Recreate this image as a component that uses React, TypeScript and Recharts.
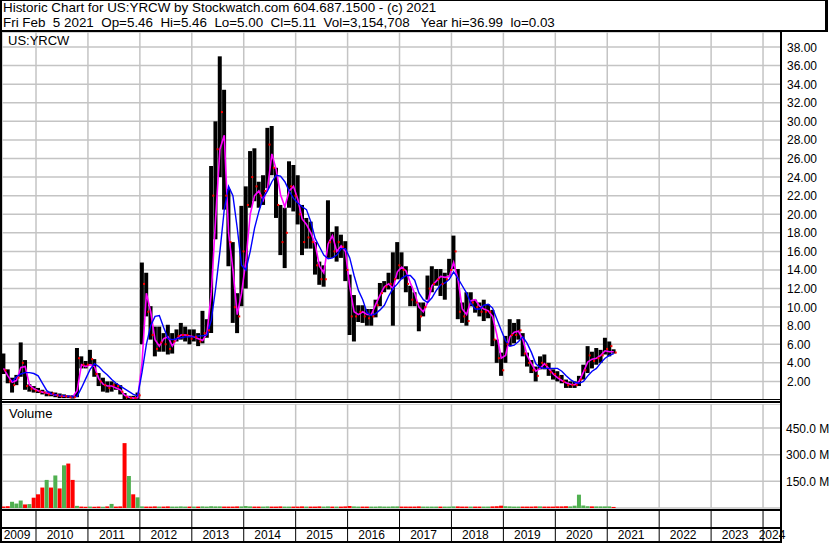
import React from 'react';
import { ComposedChart, Bar, Line, Scatter, XAxis, YAxis, CartesianGrid, Cell } from 'recharts';

// one bar per month, first bar is May 2009
const startYear = 2009;
const startMonth = 4;

const highs = [
  5.0, 3.3, 2.4, 2.7, 6.2, 4.3, 1.7, 1.5,
  1.3, 1.1, 0.9, 0.9, 0.8, 0.7, 0.6, 0.5, 0.5, 5.6, 4.7, 4.2,
  5.4, 4.4, 2.9, 2.4, 2.0, 2.0, 1.8, 1.6, 0.75, 0.45, 0.45, 0.8,
  14.8, 13.7, 10.1, 7.9, 7.9, 7.2, 8.1, 7.2, 7.6, 8.3, 7.9, 7.6,
  7.6, 7.2, 9.6, 8.7, 25.2, 30.0, 37.0, 33.4, 22.7, 17.0, 11.5, 20.9,
  23.0, 26.8, 27.1, 23.5, 24.2, 29.3, 29.5, 25.0, 21.0, 20.7, 25.7, 25.3,
  24.2, 21.0, 19.6, 19.2, 17.0, 14.9, 14.5, 21.5, 18.1, 18.7, 17.8, 17.1,
  13.5, 11.3, 10.2, 10.2, 9.8, 9.8, 10.8, 12.6, 12.8, 13.7, 15.9, 17.0,
  15.9, 14.4, 12.3, 11.6, 10.5, 10.5, 13.4, 14.4, 14.1, 14.1, 13.7, 15.2,
  17.7, 14.1, 10.5, 11.6, 11.6, 10.8, 10.5, 10.8, 10.3, 9.7, 6.5, 5.1,
  6.9, 8.7, 8.3, 8.7, 7.2, 5.1, 4.3, 3.6, 4.7, 4.9, 4.0, 3.3,
  3.1, 2.7, 2.2, 2.0, 2.0, 2.6, 3.8, 5.8, 5.2, 5.6, 5.4, 6.7,
  6.3, 5.46,
];

const lows = [
  2.8, 1.8, 0.8, 1.6, 2.5, 1.1, 0.9, 0.8,
  0.75, 0.6, 0.4, 0.4, 0.3, 0.2, 0.2, 0.2, 0.15, 0.3, 3.4, 3.4,
  3.8, 2.5, 1.5, 0.9, 0.8, 0.9, 1.1, 0.6, 0.1, 0.1, 0.1, 0.1,
  6.0, 9.0, 6.5, 4.7, 5.2, 5.2, 4.9, 5.0, 6.3, 6.5, 6.3, 6.0,
  6.3, 5.8, 6.1, 6.7, 7.2, 17.3, 24.0, 20.5, 14.4, 8.3, 7.2, 10.1,
  12.0, 20.7, 21.4, 20.7, 21.0, 22.8, 24.2, 19.6, 15.6, 14.2, 20.7, 20.3,
  18.9, 15.6, 16.3, 16.3, 13.5, 12.4, 12.2, 15.3, 15.3, 14.9, 15.3, 12.8,
  7.0, 6.3, 8.4, 8.3, 8.0, 8.0, 8.9, 10.1, 11.6, 11.9, 8.0, 13.0,
  13.0, 11.6, 10.1, 10.1, 7.4, 9.0, 10.8, 11.6, 12.3, 11.2, 10.8, 13.4,
  14.1, 8.7, 8.3, 8.0, 10.1, 9.4, 9.0, 8.5, 8.8, 5.8, 4.0, 2.6,
  4.0, 5.8, 6.1, 6.5, 4.7, 3.6, 2.9, 2.0, 3.3, 3.3, 2.6, 2.2,
  2.0, 1.8, 1.3, 1.3, 1.3, 1.5, 2.2, 2.9, 3.4, 3.8, 4.0, 4.9,
  4.7, 5.0,
];

const closes = [
  3.2, 2.0, 1.6, 2.4, 4.0, 1.5, 1.2, 1.0,
  0.9, 0.8, 0.6, 0.7, 0.5, 0.4, 0.4, 0.3, 0.3, 4.5, 3.8, 3.8,
  4.4, 2.8, 2.0, 1.6, 1.3, 1.6, 1.5, 0.9, 0.3, 0.2, 0.2, 0.5,
  12.5, 9.5, 7.0, 5.5, 6.2, 6.0, 5.5, 6.3, 6.9, 7.0, 7.0, 6.6,
  6.8, 6.3, 7.2, 7.5, 22.0, 27.0, 31.0, 22.0, 17.0, 10.0, 9.0, 16.0,
  21.0, 24.0, 23.0, 22.0, 22.5, 27.5, 25.0, 21.0, 17.0, 18.0, 23.0, 22.0,
  20.0, 17.0, 17.5, 17.0, 14.5, 13.0, 13.0, 17.0, 16.0, 17.0, 16.5, 14.0,
  9.0, 9.0, 9.5, 9.0, 8.8, 9.0, 10.2, 11.5, 12.2, 12.5, 13.0, 14.5,
  14.0, 12.5, 10.8, 10.5, 9.0, 10.0, 12.0, 12.5, 13.0, 12.5, 13.0, 14.0,
  16.0, 9.5, 9.0, 8.5, 10.5, 10.0, 9.5, 9.5, 9.5, 6.5, 4.5, 3.2,
  6.0, 7.0, 7.0, 7.5, 5.0, 4.0, 3.2, 2.6, 4.0, 3.8, 3.0, 2.8,
  2.5, 2.0, 1.6, 1.6, 1.6, 2.2, 3.2, 4.8, 4.2, 4.5, 4.8, 5.5,
  5.8, 5.11,
];

// short moving average (magenta)
const fastAvg = [
  3.4, 2.6, 1.9, 2.1, 3.5, 3.6, 1.6, 1.2,
  1.0, 0.85, 0.75, 0.65, 0.55, 0.45, 0.4, 0.38, 0.35, 1.0, 3.8, 3.6,
  3.8, 3.6, 2.3, 1.7, 1.5, 1.5, 1.3, 1.1, 0.5, 0.3, 0.2, 0.25,
  4.0, 11.5, 9.5, 6.5, 5.8, 6.6, 6.8, 5.8, 6.6, 7.0, 7.0, 6.9,
  6.8, 6.6, 6.4, 7.2, 11.5, 19.5, 27.0, 28.5, 18.0, 14.0, 9.2, 11.5,
  15.0, 20.0, 22.0, 22.5, 21.5, 22.8, 26.5, 24.8, 22.1, 20.8, 22.5, 23.0,
  21.6, 19.5, 18.9, 18.0, 16.8, 14.4, 13.7, 16.8, 17.7, 16.0, 16.6, 16.0,
  12.2, 9.5, 9.2, 9.5, 9.2, 9.2, 10.3, 11.3, 12.2, 12.5, 12.0, 13.8,
  14.3, 13.9, 12.6, 11.5, 10.0, 9.5, 10.5, 12.3, 12.8, 13.3, 13.2, 13.3,
  14.8, 13.0, 9.8, 9.2, 10.7, 10.8, 10.1, 9.8, 9.6, 9.0, 7.0, 4.5,
  4.8, 6.8, 7.3, 7.4, 6.5, 4.8, 3.9, 3.1, 3.4, 3.9, 3.4, 2.8,
  2.4, 2.1, 1.85, 1.7, 1.65, 2.0, 3.0, 4.1, 4.4, 4.5, 4.8, 5.3,
  5.2, 5.2,
];

// long moving average (blue)
const slowAvg = [
  null, null, 2.0, 2.5, 2.8, 2.95, 2.95, 2.85,
  2.6, 1.8, 1.0, 0.7, 0.55, 0.5, 0.45, 0.4, 0.38, 0.4, 1.3, 2.3,
  3.3, 3.9, 3.6, 3.1, 2.7, 2.2, 1.8, 1.5, 1.2, 0.9, 0.6, 0.45,
  3.0, 6.0, 8.0, 9.0, 9.1, 7.8, 6.6, 6.5, 6.6, 6.7, 6.8, 6.8,
  6.8, 6.9, 6.9, 7.0, 8.6, 12.0, 16.0, 20.5, 23.0, 22.0, 18.5, 14.5,
  14.0, 16.0, 18.5, 20.3, 21.8, 22.5, 23.5, 24.2, 24.1, 23.5, 22.5, 21.7,
  21.2, 20.8, 20.5, 19.2, 17.4, 16.5, 15.6, 15.2, 15.3, 15.6, 16.3, 16.3,
  15.3, 13.4, 11.8, 10.8, 9.4, 9.1, 9.3, 9.7, 10.2, 11.2, 12.0, 12.5,
  13.1, 13.4, 13.4, 12.9, 11.5, 10.8, 10.5, 11.0, 11.8, 12.4, 12.6, 13.0,
  13.8, 13.1, 12.3, 11.5, 10.4, 9.8, 9.8, 10.2, 10.3, 9.9, 8.7, 7.5,
  6.4, 5.8, 5.9, 6.3, 6.8, 6.1, 5.1, 3.9, 3.5, 3.4, 3.4, 3.4,
  3.4, 3.1, 2.6, 2.2, 1.9, 1.8, 2.0, 2.6, 3.1, 3.4, 4.0, 4.5,
  4.8, 5.0,
];

// volume in millions
const volumes = [
  8, 10, 35, 25, 42, 20, 22, 58,
  77, 115, 158, 115, 183, 110, 240, 250, 158, 12, 8, 7,
  8, 7, 8, 7, 9, 23, 8, 9, 365, 180, 77, 60,
  9, 8, 8, 9, 8, 8, 9, 8, 8, 9, 8, 8,
  8, 8, 9, 8, 10, 9, 9, 8, 8, 8, 9, 9,
  11, 9, 8, 8, 8, 9, 8, 8, 9, 8, 8, 8,
  8, 9, 8, 8, 8, 9, 8, 9, 8, 8, 8, 9,
  11, 9, 8, 8, 8, 8, 8, 9, 8, 8, 9, 9,
  8, 8, 8, 8, 9, 8, 8, 8, 8, 8, 8, 8,
  9, 9, 8, 8, 8, 8, 8, 8, 8, 9, 10, 13,
  10, 9, 8, 8, 8, 8, 8, 9, 9, 8, 8, 8,
  9, 9, 10, 9, 13, 75, 14, 10, 9, 9, 9, 9,
  9, 6,
];

// colour of the early volume bars as seen on the chart (g = up, r = down)
const earlyVolColors = 'rrgggrgr' + 'rrgrgrgrrgrr' + 'grrgrgrrrgrg';

const priceTicks = [2, 4, 6, 8, 10, 12, 14, 16, 18, 20, 22, 24, 26, 28, 30, 32, 34, 36, 38];
const volumeTicks = [150, 300, 450];
const yearTicks = [2010, 2011, 2012, 2013, 2014, 2015, 2016, 2017, 2018, 2019, 2020, 2021, 2022, 2023, 2024];

const xDomain: [number, number] = [2009.345, 2024.346];
const priceDomain: [number, number] = [0, 39.62];
const volumeDomain: [number, number] = [0, 585];

const PLOT_W = 779;
const yearPx = PLOT_W / (xDomain[1] - xDomain[0]);

const GREEN = '#50b050';
const RED = '#ff0000';
const GRID = '#c4c4c4';
const FONT = 'Arial, "Liberation Sans", sans-serif';

const rows = highs.map((hi, i) => ({
  t: startYear + (startMonth + i + 0.5) / 12,
  range: [lows[i], hi],
  close: closes[i],
  fast: fastAvg[i],
  slow: slowAvg[i],
  vol: volumes[i],
  up: i < earlyVolColors.length ? earlyVolColors[i] === 'g' : closes[i] >= closes[i - 1],
}));

const PriceTick = ({ x, y, payload }: any) => (
  <text x={x} y={y + 4.5} fontSize={12} fontFamily={FONT} fill="#000">
    {payload.value.toFixed(2)}
  </text>
);

const VolumeTick = ({ x, y, payload }: any) => (
  <text x={x} y={y + 4.5} fontSize={12} fontFamily={FONT} fill="#000">
    {payload.value.toFixed(1) + ' M'}
  </text>
);

const YearTick = ({ x, y, payload, index }: any) => {
  const year = payload.value;
  const last = year === yearTicks[yearTicks.length - 1];
  const cx = last ? (x + PLOT_W) / 2 : x + yearPx / 2 - 2;
  return (
    <g>
      <line x1={x} x2={x} y1={y + 2} y2={y + 35} stroke="#000" strokeWidth={1} />
      <text x={cx} y={y + 31} textAnchor="middle" fontSize={12} fontFamily={FONT} fill="#000">
        {year}
      </text>
      {index === 0 && (
        <text x={x / 2 - 2} y={y + 31} textAnchor="middle" fontSize={12} fontFamily={FONT} fill="#000">
          {year - 1}
        </text>
      )}
    </g>
  );
};

const CloseMark = (p: any) => <rect x={p.cx + 1} y={p.cy - 1} width={2} height={2} fill={RED} />;

const rule = (left: number, top: number, width: number, height: number) => (
  <div style={{ position: 'absolute', left, top, width, height, background: '#000' }} />
);

const App: React.FC = () => {
  return (
    <div
      style={{
        position: 'absolute',
        left: 0,
        top: 0,
        width: 830,
        height: 543,
        overflow: 'hidden',
        background: '#fff',
        fontFamily: FONT,
        color: '#000',
      }}
    >
      <div style={{ position: 'absolute', left: 2, top: 32 }}>
        <ComposedChart width={828} height={368} data={rows} margin={{ top: 0, right: 0, bottom: 0, left: 0 }}>
          <CartesianGrid stroke={GRID} strokeWidth={1.5} />
          <XAxis dataKey="t" type="number" domain={xDomain} ticks={yearTicks} interval={0} hide allowDataOverflow />
          <YAxis
            orientation="right"
            width={49}
            domain={priceDomain}
            ticks={priceTicks}
            interval={0}
            axisLine={false}
            tickLine={false}
            tickSize={4}
            tickMargin={2}
            tick={(p: any) => <PriceTick {...p} />}
            allowDataOverflow
          />
          <Bar dataKey="range" barSize={4} fill="#000" isAnimationActive={false} />
          <Scatter dataKey="close" shape={CloseMark} isAnimationActive={false} />
          <Line dataKey="fast" type="linear" stroke="#ff00ff" strokeWidth={1.6} dot={false} isAnimationActive={false} />
          <Line dataKey="slow" type="linear" stroke="#0000ff" strokeWidth={1.4} dot={false} isAnimationActive={false} />
        </ComposedChart>
      </div>

      <div style={{ position: 'absolute', left: 2, top: 404 }}>
        <ComposedChart width={828} height={139} data={rows} margin={{ top: 0, right: 0, bottom: 0, left: 0 }}>
          <CartesianGrid stroke={GRID} strokeWidth={1.5} />
          <XAxis
            dataKey="t"
            type="number"
            domain={xDomain}
            ticks={yearTicks}
            interval={0}
            height={35}
            axisLine={false}
            tickLine={false}
            tickSize={0}
            tickMargin={0}
            tick={(p: any) => <YearTick {...p} />}
            allowDataOverflow
          />
          <YAxis
            orientation="right"
            width={49}
            domain={volumeDomain}
            ticks={volumeTicks}
            interval={0}
            axisLine={false}
            tickLine={false}
            tickSize={3}
            tickMargin={2}
            tick={(p: any) => <VolumeTick {...p} />}
            allowDataOverflow
          />
          <Bar dataKey="vol" barSize={4} isAnimationActive={false}>
            {rows.map((r, i) => (
              <Cell key={i} fill={r.up ? GREEN : RED} />
            ))}
          </Bar>
        </ComposedChart>
      </div>

      <div
        style={{
          position: 'absolute',
          left: 3,
          top: -0.5,
          fontSize: 13.4,
          lineHeight: '15px',
          whiteSpace: 'pre',
        }}
      >
        {'Historic Chart for US:YRCW by Stockwatch.com 604.687.1500 - (c) 2021\n'}
        {'Fri Feb  5 2021  Op=5.46  Hi=5.46  Lo=5.00  Cl=5.11  Vol=3,154,708   Year hi=36.99  lo=0.03'}
      </div>
      <div style={{ position: 'absolute', left: 8, top: 34, fontSize: 13, lineHeight: '13px' }}>US:YRCW</div>
      <div style={{ position: 'absolute', left: 9, top: 406.5, fontSize: 13, lineHeight: '13px' }}>Volume</div>

      {rule(0, 0, 828, 1)}
      {rule(0, 29.5, 828, 2.5)}
      {rule(825, 0, 3, 32)}
      {rule(0, 0, 2, 543)}
      {rule(780, 32, 2, 511)}
      {rule(0, 398.5, 782, 1.5)}
      {rule(0, 401, 782, 1.5)}
      {rule(0, 508.5, 782, 2)}
      {rule(0, 526.5, 782, 2)}
      {rule(0, 541, 782, 2)}
    </div>
  );
};

export default App;
